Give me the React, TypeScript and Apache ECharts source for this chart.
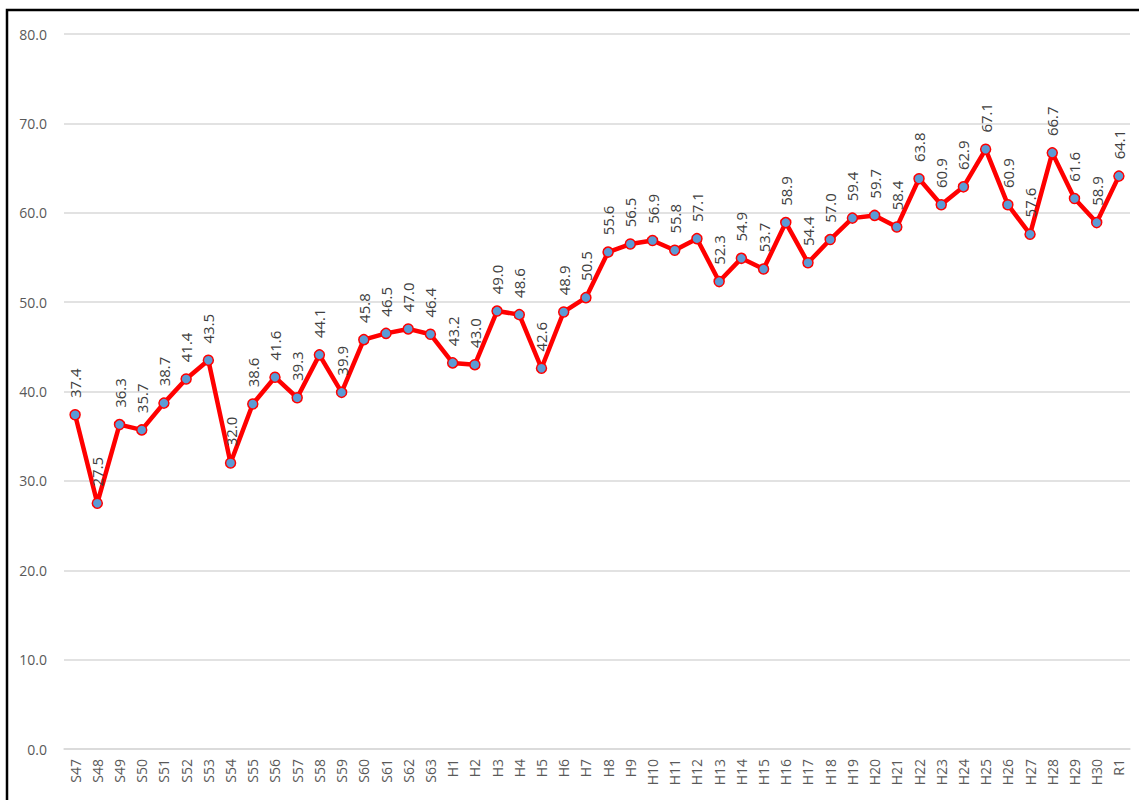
import React, { useEffect, useRef } from "react";
import * as echarts from "echarts";

const categories = [
  "S47","S48","S49","S50","S51","S52","S53","S54","S55","S56","S57","S58","S59","S60","S61","S62","S63",
  "H1","H2","H3","H4","H5","H6","H7","H8","H9","H10","H11","H12","H13","H14","H15","H16","H17","H18","H19","H20",
  "H21","H22","H23","H24","H25","H26","H27","H28","H29","H30","R1",
];
const values = [
  37.4, 27.5, 36.3, 35.7, 38.7, 41.4, 43.5, 32.0, 38.6, 41.6, 39.3, 44.1, 39.9, 45.8, 46.5, 47.0, 46.4,
  43.2, 43.0, 49.0, 48.6, 42.6, 48.9, 50.5, 55.6, 56.5, 56.9, 55.8, 57.1, 52.3, 54.9, 53.7, 58.9, 54.4, 57.0, 59.4, 59.7,
  58.4, 63.8, 60.9, 62.9, 67.1, 60.9, 57.6, 66.7, 61.6, 58.9, 64.1,
];

export default function App() {
  const ref = useRef<HTMLDivElement>(null);
  useEffect(() => {
    const chart = echarts.init(ref.current!, null, { renderer: "svg" });
    chart.setOption({
      animation: false,
      backgroundColor: "#ffffff",
      textStyle: { fontFamily: "Open Sans" },
      grid: { left: 64, right: 9, top: 34, bottom: 51, containLabel: false },
      graphic: [
        {
          type: "rect",
          shape: { x: 7, y: 10, width: 1300, height: 1000 },
          style: { fill: "none", stroke: "#000000", lineWidth: 2.5 },
          silent: true,
        },
      ],
      xAxis: {
        type: "category",
        data: categories,
        boundaryGap: true,
        axisLine: { show: true, lineStyle: { color: "#d9d9d9", width: 1.5 } },
        axisTick: { show: false },
        axisLabel: {
          rotate: 90,
          interval: 0,
          color: "#595959",
          fontSize: 14,
          margin: 10,
        },
      },
      yAxis: {
        type: "value",
        min: 0,
        max: 80,
        interval: 10,
        axisLine: { show: false },
        axisTick: { show: false },
        splitLine: { lineStyle: { color: "#d9d9d9", width: 1.5 } },
        axisLabel: {
          color: "#595959",
          fontSize: 14,
          margin: 17,
          formatter: (v: number) => v.toFixed(1),
        },
      },
      series: [
        {
          type: "line",
          data: values,
          lineStyle: { color: "#ff0000", width: 4.5 },
          itemStyle: { color: "#5b9bd5", borderColor: "#ff0000", borderWidth: 1.5 },
          symbol: "circle",
          symbolSize: 10,
          label: {
            show: true,
            position: "top",
            rotate: 90,
            align: "left",
            verticalAlign: "middle",
            distance: 11,
            color: "#404040",
            fontSize: 15,
            formatter: (p: any) => Number(p.value).toFixed(1),
          },
        },
      ],
    });
    return () => chart.dispose();
  }, []);
  return (
    <div
      ref={ref}
      style={{ position: "absolute", left: 0, top: 0, width: 1139, height: 800 }}
    />
  );
}
